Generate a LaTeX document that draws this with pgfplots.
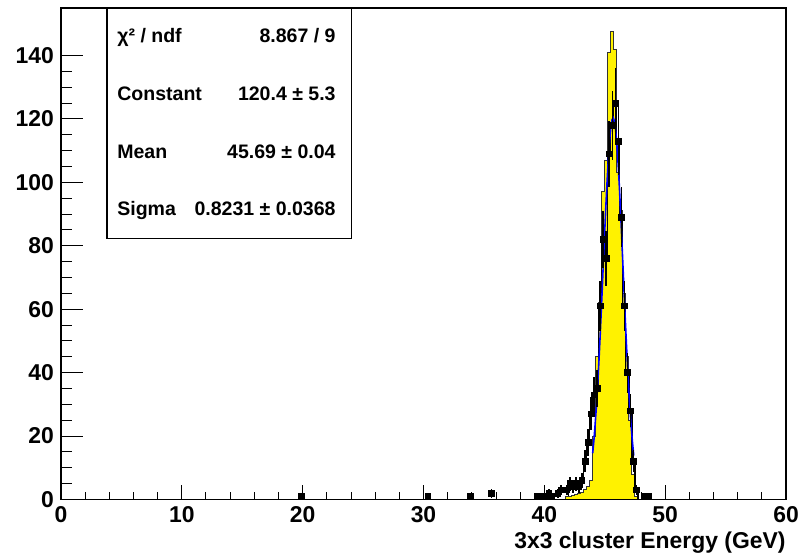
\documentclass[border=0pt]{standalone}
\usepackage{fontspec}
\setmainfont{Liberation Sans}
\usepackage{pgfplots}
\pgfplotsset{compat=1.18}
\usepackage{pgfplotstable}

% data points (bin centre, counts, error)
\pgfplotstableread{
x       y    ey
19.875  1    1
30.375  1    1
33.875  1    1
35.625  2    1.41
39.375  1    1
39.875  1    1
40.125  1    1
40.375  2    1.41
40.625  1    1
41.125  2    1.41
41.375  3    1.73
41.875  3    1.73
42.125  5    2.24
42.375  4    2
42.625  5    2.24
42.875  4    2
43.125  6    2.45
43.375  12   3.46
43.625  18   4.24
43.875  27   5.2
44.125  33   5.74
44.375  35   5.92
44.625  61   7.81
44.875  82   9.06
45.125  76   8.72
45.375  109  10.44
45.625  118  10.86
45.875  125  11.18
46.125  113  10.63
46.375  89   9.43
46.625  61   7.81
46.875  40   6.32
47.125  28   5.29
47.375  12   3.46
47.625  3    1.73
48.375  1    1
48.625  1    1
}\datatab

\pgfplotstableread{
x       y
41.875  3
42.125  5
42.375  4
42.625  5
42.875  4
43.125  6
43.375  12
43.625  18
43.875  27
44.125  33
44.375  35
44.625  61
44.875  82
45.125  76
45.375  109
45.625  118
45.875  125
46.125  113
46.375  89
46.625  61
46.875  40
47.125  28
47.375  12
47.625  3
47.875  0
}\dataline

% reference histogram, left bin edges
\pgfplotstableread{
x      y
41.75  0
41.75  1
42.0   1
42.25  1.3
42.5   1.5
42.75  2
43.0   2.3
43.25  3
43.5   4
43.75  6
44.0   20
44.25  45
44.5   62
44.75  97
45.0   107
45.25  141
45.5   147.6
45.75  142
46.0   103
46.25  91
46.5   65
46.75  45
47.0   25
47.25  8
47.5   1
47.75  0
}\mctab

\begin{document}
\begin{tikzpicture}
\begin{axis}[
    name=main,
    width=362.5bp, height=245.75bp, scale only axis,
    xmin=0, xmax=60, ymin=0, ymax=155,
    axis line style={line width=0.6bp},
    tick align=inside,
    xtick={0,10,...,60}, minor x tick num=4,
    xtick pos=left,
    ytick=\empty,
    major tick length=7.4bp, minor tick length=3.7bp,
    tick style={black, line width=0.5bp},
    /pgf/number format/assume math mode=true,
    ticklabel style={font=\fontsize{11.5}{13}\selectfont\bfseries},
    xlabel={3x3 cluster Energy (GeV)},
    xlabel style={at={(rel axis cs:1,0)}, anchor=base east, yshift=-24.5bp,
        inner sep=0pt, font=\fontsize{11.5}{13}\selectfont\bfseries},
    clip=false,
]
    \addplot[const plot, fill=yellow, draw=black!80, line width=0.5bp] table[x=x, y=y] {\mctab};
    \addplot[const plot mark mid, black, line width=0.6bp, mark=none] table[x=x, y=y] {\dataline};
    \addplot[blue, line width=0.8bp, mark=none] coordinates {
        (44.0,14.6) (44.1,18.6) (44.2,23.4) (44.3,28.9) (44.4,35.3) (44.5,42.3)
        (44.6,50.1) (44.7,58.4) (44.8,67.1) (44.9,76.0) (45.0,84.7) (45.1,93.1)
        (45.2,100.8) (45.3,107.6) (45.4,113.2) (45.5,117.2) (45.6,119.7) (45.7,120.4)
        (45.8,119.3) (45.9,116.5) (46.0,112.2) (46.1,106.3) (46.2,99.4) (46.3,91.5)
        (46.4,83.0) (46.5,74.2) (46.6,65.3) (46.7,56.7) (46.8,48.5) (46.9,40.9)
        (47.0,33.9) (47.1,27.8) (47.2,22.4) (47.3,17.8) (47.4,13.9)
    };
    \addplot[black, only marks, mark=square*, mark size=1.4bp,
        error bars/.cd, y dir=both, y explicit,
        error bar style={line width=0.8bp, black}, error mark=none]
        table[x=x, y=y, y error=ey] {\datatab};
    % statistics box
    \draw[fill=white, line width=0.6bp] (rel axis cs:0.0634,0.5316) rectangle (rel axis cs:0.401,1);
    \begin{scope}[every node/.style={inner sep=0pt, font=\fontsize{9.8}{11}\selectfont\bfseries}]
        \node[anchor=mid west] at (rel axis cs:0.0772,0.941) {χ² / ndf};
        \node[anchor=mid east] at (rel axis cs:0.3793,0.941) {8.867 / 9};
        \node[anchor=mid west] at (rel axis cs:0.0772,0.823) {Constant};
        \node[anchor=mid east] at (rel axis cs:0.3793,0.823) {120.4 ± 5.3};
        \node[anchor=mid west] at (rel axis cs:0.0772,0.705) {Mean};
        \node[anchor=mid east] at (rel axis cs:0.3793,0.705) {45.69 ± 0.04};
        \node[anchor=mid west] at (rel axis cs:0.0772,0.589) {Sigma};
        \node[anchor=mid east] at (rel axis cs:0.3793,0.589) {0.8231 ± 0.0368};
    \end{scope}
\end{axis}
\begin{axis}[
    width=362.5bp, height=245.75bp, scale only axis,
    xmin=0, xmax=60, ymin=0, ymax=155,
    axis line style={line width=0.6bp},
    tick align=inside,
    xtick=\empty,
    ytick={0,20,...,140}, minor y tick num=3,
    ytick pos=left,
    major tick length=10.9bp, minor tick length=5.4bp,
    tick style={black, line width=0.5bp},
    /pgf/number format/assume math mode=true,
    ticklabel style={font=\fontsize{11.5}{13}\selectfont\bfseries},
]
\end{axis}
\pgfresetboundingbox
\path[use as bounding box] ([xshift=-30.5bp,yshift=-26.75bp]main.south west)
    rectangle ([xshift=8.5bp,yshift=4bp]main.north east);
\end{tikzpicture}
\end{document}
